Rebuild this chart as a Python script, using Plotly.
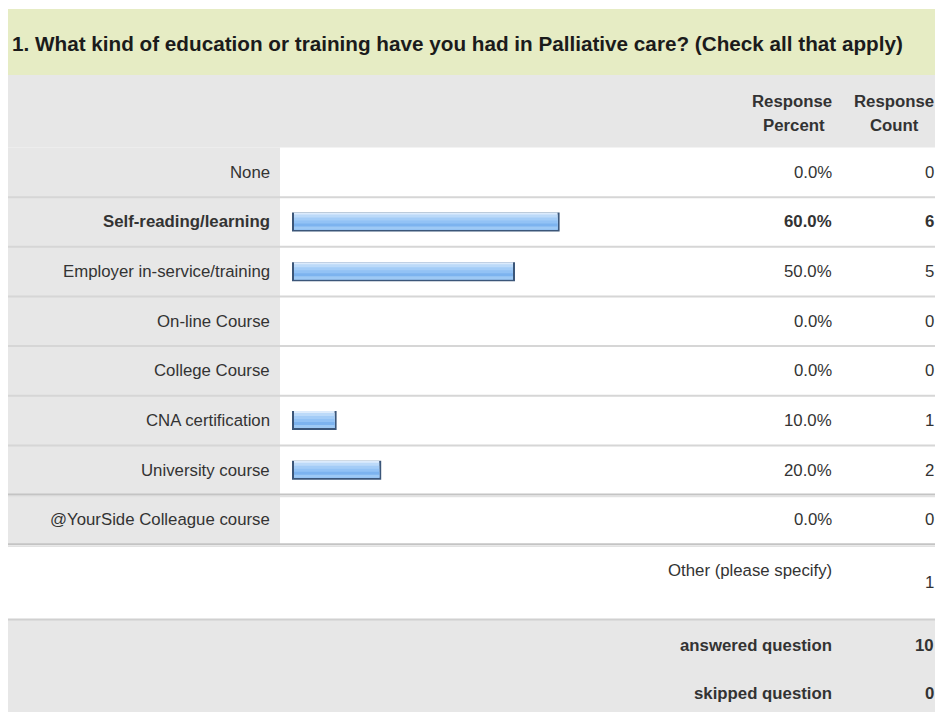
import plotly.graph_objects as go

# ---- survey data ----
question = "1. What kind of education or training have you had in Palliative care? (Check all that apply)"
answer_choices = [
    "None",
    "Self-reading/learning",
    "Employer in-service/training",
    "On-line Course",
    "College Course",
    "CNA certification",
    "University course",
    "@YourSide Colleague course",
]
response_percent = [0.0, 60.0, 50.0, 0.0, 0.0, 10.0, 20.0, 0.0]
response_count = [0, 6, 5, 0, 0, 1, 2, 0]
other_label = "Other (please specify)"
other_count = 1
answered_question = 10
skipped_question = 0

# ---- page geometry (pixels) ----
W, H = 935, 712
LEFT = 8
TOP = 9
TITLE_BOTTOM = 75
HEADER_BOTTOM = 147.5
ROW_H = 49.65
N = len(answer_choices)
ROWS_BOTTOM = HEADER_BOTTOM + ROW_H * N
OTHER_BOTTOM = 619.5
LABEL_COL_RIGHT = 280
LABEL_RIGHT = 272
PCT_RIGHT = 834
CNT_RIGHT = 936
BAR_X0, BAR_X100 = 292, 738

FONT = "Liberation Sans, Arial, sans-serif"
TXT = "#333333"
FS = 16.8


def px(x):
    return x / W


def py(y):
    return 1 - y / H


fig = go.Figure()

# ---- bars: a dark frame with a gradient face laid over it ----
bar_h = 19 / ROW_H
face_h = 17
edge_x = 2 / (BAR_X100 - BAR_X0) * 100
ys = list(range(N))
frame_x = [v if v > 0 else None for v in response_percent]
fig.add_trace(go.Bar(
    x=frame_x, y=ys, orientation="h", width=bar_h, offset=-bar_h / 2,
    marker=dict(color="#3b5679", line=dict(width=0)), hoverinfo="skip",
))
# each band runs from its top edge to the bottom of the face; later bands
# overwrite the lower part of earlier ones, so no seams appear between them
bands = [  # (top px, colour)
    (0, "#dcebfc"),
    (2, "#bcdaf9"),
    (5, "#a3ccf7"),
    (8, "#92c2f5"),
    (11, "#7cb3ef"),
    (14, "#9dc9f5"),
]
face_x = [v - 2 * edge_x if v > 0 else None for v in response_percent]
for t, c in bands:
    fig.add_trace(go.Bar(
        x=face_x, y=ys, base=edge_x, orientation="h",
        width=(face_h - t) / ROW_H, offset=-bar_h / 2 + t / ROW_H,
        marker=dict(color=c, line=dict(width=0)), hoverinfo="skip",
    ))

# ---- backgrounds ----
shapes = []


def rect(x0, y0, x1, y1, color):
    shapes.append(dict(type="rect", xref="paper", yref="paper",
                       x0=px(x0), x1=px(x1), y0=py(y1), y1=py(y0),
                       fillcolor=color, line=dict(width=0), layer="below"))


def hline(y, color, width, x0=LEFT, x1=W):
    shapes.append(dict(type="line", xref="paper", yref="paper",
                       x0=px(x0), x1=px(x1), y0=py(y), y1=py(y),
                       line=dict(color=color, width=width), layer="below"))


rect(LEFT, TOP, W, TITLE_BOTTOM, "#e6ecc4")
rect(LEFT, TITLE_BOTTOM, W, HEADER_BOTTOM, "#e7e7e7")
rect(LEFT, HEADER_BOTTOM, LABEL_COL_RIGHT, ROWS_BOTTOM, "#e7e7e7")
rect(LEFT, OTHER_BOTTOM, W, H, "#e7e7e7")

for i in range(1, N - 1):
    hline(HEADER_BOTTOM + ROW_H * i, "#d6d6d6", 2)
for yy in (HEADER_BOTTOM + ROW_H * (N - 1), ROWS_BOTTOM):
    hline(yy - 0.5, "#c4c4c4", 2)
    hline(yy + 1.5, "#e2e2e2", 1.5)
hline(OTHER_BOTTOM, "#d0d0d0", 2)

# ---- text ----
ann = []


def text(x, y, s, anchor="right", size=FS, bold=False, color=TXT, yref="paper"):
    yv = py(y) if yref == "paper" else y
    ann.append(dict(x=px(x), y=yv, xref="paper", yref=yref,
                    text=f"<b>{s}</b>" if bold else s, showarrow=False,
                    xanchor=anchor, yanchor="middle",
                    font=dict(family=FONT, size=size, color=color)))


text(10, 43, question, anchor="left", size=20.7, bold=True, color="#1b1b1b")
text(PCT_RIGHT, 101, "Response", bold=True)
text(794, 126, "Percent", anchor="center", bold=True)
text(CNT_RIGHT, 101, "Response", bold=True)
text(894, 126, "Count", anchor="center", bold=True)

top_pct = max(response_percent)
for i, (lab, p, c) in enumerate(zip(answer_choices, response_percent, response_count)):
    bold = p == top_pct
    text(LABEL_RIGHT, i, lab, bold=bold, yref="y")
    text(PCT_RIGHT, i, f"{p:.1f}%", bold=bold, yref="y")
    text(CNT_RIGHT, i, str(c), bold=bold, yref="y")

text(PCT_RIGHT, 570, other_label)
text(CNT_RIGHT, 582, str(other_count))
text(PCT_RIGHT, 645, "answered question", bold=True)
text(CNT_RIGHT, 645, str(answered_question), bold=True)
text(PCT_RIGHT, 693, "skipped question", bold=True)
text(CNT_RIGHT, 693, str(skipped_question), bold=True)

fig.update_layout(
    width=W, height=H, margin=dict(l=0, r=0, t=0, b=0),
    paper_bgcolor="white", plot_bgcolor="rgba(0,0,0,0)",
    barmode="overlay", showlegend=False,
    shapes=shapes, annotations=ann,
    xaxis=dict(domain=[px(BAR_X0), px(BAR_X100)], range=[0, 100],
               visible=False, fixedrange=True),
    yaxis=dict(domain=[py(ROWS_BOTTOM), py(HEADER_BOTTOM)], range=[N - 0.5, -0.5],
               visible=False, fixedrange=True),
)

fig.write_html("out.html", config={"displayModeBar": False})
